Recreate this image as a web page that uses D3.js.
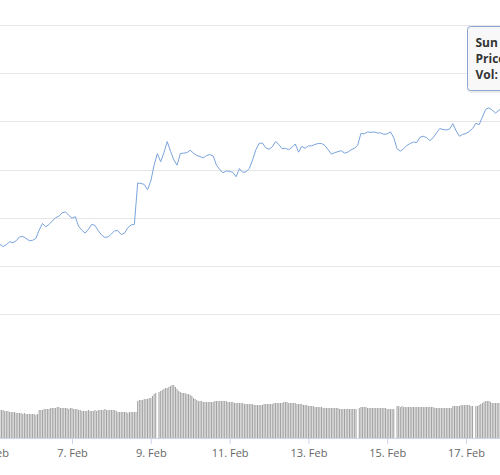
<!DOCTYPE html>
<html>
<head>
<meta charset="utf-8">
<script src="https://cdn.jsdelivr.net/npm/d3@7"></script>
<style>
	body { margin: 0; background: #fff; }
	svg { display: block; font-family: "Open Sans", sans-serif; }
</style>
</head>
<body>
<div id="chart"></div>
<script>
// first sample: 5 Feb 2018 04:00 UTC, price every 2 hours, volume every hour
var startTime = Date.UTC(2018, 1, 5, 4);
var priceStepHours = 2;
var volumeStepHours = 1;

var prices = [
	7450,7400,7440,7500,7480,7520,7600,7610,7570,7520,
	7530,7570,7740,7880,7810,7860,7930,8000,8030,8100,
	8120,8050,7990,8020,7820,7740,7680,7760,7860,7840,
	7730,7640,7590,7600,7660,7730,7730,7650,7680,7790,
	7850,7860,8720,8710,8690,8580,8760,9090,9330,9160,
	9350,9580,9380,9200,9090,9330,9340,9350,9400,9340,
	9290,9270,9240,9290,9310,9280,9090,9000,8930,8970,
	8960,8940,8850,9020,8940,8950,9020,9200,9410,9540,
	9550,9450,9420,9470,9580,9520,9430,9440,9410,9460,
	9530,9360,9480,9440,9490,9490,9520,9540,9540,9500,
	9410,9320,9350,9370,9390,9340,9360,9410,9440,9500,
	9750,9740,9780,9770,9780,9760,9760,9730,9740,9780,
	9660,9430,9380,9430,9500,9540,9570,9560,9670,9690,
	9660,9600,9660,9760,9850,9830,9820,9840,9950,9800,
	9690,9730,9750,9790,9850,9960,9930,10090,10250,10280,
	10230,10170,10230,10260
];

var volumes = [
	280,280,280,270,270,270,260,260,260,260,
	250,250,250,250,240,250,240,240,240,240,
	240,240,230,240,280,280,280,290,290,290,
	290,300,300,300,300,310,310,300,300,300,
	300,300,290,300,300,290,290,290,280,280,
	270,270,270,270,280,270,270,270,280,270,
	280,280,280,280,290,280,280,280,280,280,
	280,270,260,260,260,260,260,260,250,260,
	260,260,260,260,370,380,380,380,390,390,
	390,400,400,420,440,450,0,460,470,480,
	490,500,500,510,520,530,530,510,490,470,
	460,450,450,450,440,440,430,420,400,390,
	380,370,370,370,360,360,360,360,360,360,
	360,370,370,370,370,370,370,370,370,360,
	360,360,360,350,350,350,350,350,350,340,
	340,340,340,340,340,330,330,330,330,330,
	330,340,340,340,340,340,340,350,350,350,
	350,350,350,360,360,360,350,350,350,350,
	350,340,340,340,340,330,330,330,320,320,
	320,320,310,310,310,310,310,300,300,300,
	300,300,300,300,300,300,300,290,290,290,
	290,290,290,290,290,290,290,290,0,300,
	310,310,310,310,300,300,300,300,300,300,
	300,300,300,300,300,300,290,290,290,290,
	290,0,320,320,310,320,310,310,310,310,
	310,310,310,310,310,310,310,310,310,310,
	310,310,310,310,310,300,300,300,300,300,
	300,300,300,300,300,300,320,320,320,320,
	320,330,330,330,330,330,330,320,320,0,
	320,320,330,340,350,360,370,370,370,360,
	350,350,350,350,350,350,350
];

var tickDays = [5, 7, 9, 11, 13, 15, 17];
var priceTicks = [6000, 7000, 8000, 9000, 10000, 11000, 12000];

var tooltipLines = ["Sun 18 Feb 2018, 00:00", "Price: 10,260", "Vol: 350"];

(function(){
	var width = 500;
	var height = 475;
	var hour = 3600 * 1000;

	var svg = d3.select('#chart').append('svg')
		.attr('width', width)
		.attr('height', height);

	var x = d3.scaleUtc()
		.domain([new Date(Date.UTC(2018, 1, 7)), new Date(Date.UTC(2018, 1, 17))])
		.range([72, 466]);

	var y = d3.scaleLinear()
		.domain([6000, 12000])
		.range([314, 25]);

	var yVol = d3.scaleLinear()
		.domain([0, 1000])
		.range([438, 338]);

	// grid
	svg.append('g')
		.selectAll('line')
		.data(priceTicks)
		.enter()
		.append('line')
		.attr('x1', 0)
		.attr('x2', width)
		.attr('y1', function(d){ return Math.round(y(d)) + 0.5; })
		.attr('y2', function(d){ return Math.round(y(d)) + 0.5; })
		.attr('stroke', '#e6e6e6');

	// volume columns
	var barW = (x(startTime + hour) - x(startTime)) * 0.65;
	svg.append('g')
		.selectAll('rect')
		.data(volumes)
		.enter()
		.append('rect')
		.attr('x', function(d, i){ return x(startTime + i * volumeStepHours * hour) - barW / 2; })
		.attr('y', function(d){ return yVol(d); })
		.attr('width', barW)
		.attr('height', function(d){ return yVol(0) - yVol(d); })
		.attr('fill', '#a2a2a2');

	// price line
	var line = d3.line()
		.x(function(d, i){ return x(startTime + i * priceStepHours * hour); })
		.y(function(d){ return y(d); });

	svg.append('path')
		.datum(prices)
		.attr('d', line)
		.attr('fill', 'none')
		.attr('stroke', '#7aa4dc')
		.attr('stroke-width', 1)
		.attr('stroke-linejoin', 'round');

	// x axis
	var axis = d3.axisBottom(x)
		.tickValues(tickDays.map(function(d){ return new Date(Date.UTC(2018, 1, d)); }))
		.tickFormat(d3.utcFormat('%-d. %b'))
		.tickSizeInner(6)
		.tickSizeOuter(0)
		.tickPadding(5);

	var gx = svg.append('g')
		.attr('transform', 'translate(0,' + 438 + ')')
		.call(axis);
	gx.select('.domain').remove();
	gx.selectAll('.tick line').attr('stroke', '#ccd6eb');
	gx.selectAll('.tick text')
		.attr('fill', '#666')
		.style('font-size', '11px')
		.style('font-family', '"Open Sans", sans-serif');
	gx.append('line')
		.attr('x1', 0)
		.attr('x2', width)
		.attr('y1', 0.5)
		.attr('y2', 0.5)
		.attr('stroke', '#ccd6eb');

	// tooltip (cut by the right edge)
	var tip = svg.append('g').attr('transform', 'translate(467.5,26.5)');
	tip.append('rect')
		.attr('x', 1).attr('y', 1)
		.attr('width', 140).attr('height', 64).attr('rx', 3)
		.attr('fill', 'none')
		.attr('stroke', 'rgba(0,0,0,0.08)')
		.attr('stroke-width', 3);
	tip.append('rect')
		.attr('width', 140).attr('height', 64).attr('rx', 3)
		.attr('fill', 'rgba(247,247,247,0.9)')
		.attr('stroke', '#8aa6cf');
	tip.selectAll('text')
		.data(tooltipLines)
		.enter()
		.append('text')
		.attr('x', 8)
		.attr('y', function(d, i){ return 20 + i * 16; })
		.attr('fill', '#333')
		.style('font-size', '12px')
		.style('font-weight', 'bold')
		.text(function(d){ return d; });
})();
</script>
</body>
</html>
